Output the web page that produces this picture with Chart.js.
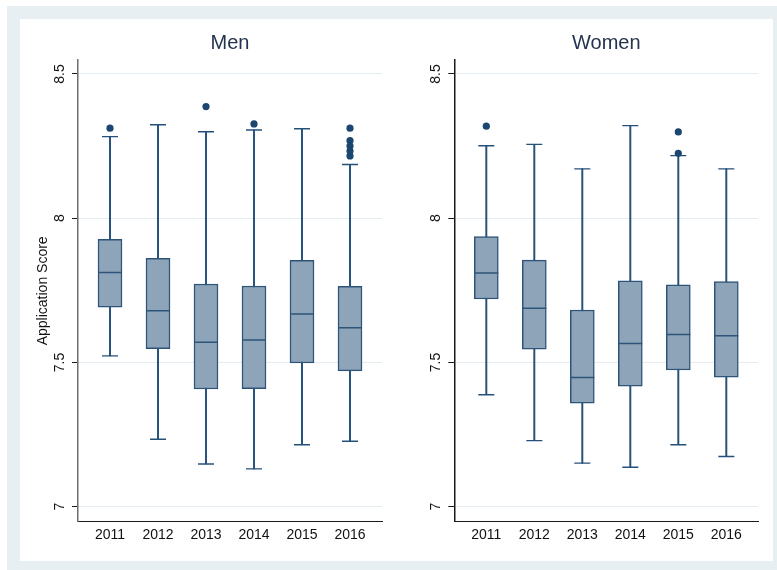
<!DOCTYPE html>
<html>
<head>
<meta charset="utf-8">
<script src="https://cdn.jsdelivr.net/npm/chart.js@4/dist/chart.umd.min.js"></script>
<style>
  html, body { margin: 0; padding: 0; background: #ffffff; }
  #frame { position: absolute; left: 7px; top: 6px; width: 770px; height: 564px; background: #e8eff2; }
  #sheet { position: absolute; left: 20px; top: 19px; width: 753px; height: 542px; background: #ffffff; }
  canvas { position: absolute; top: 19px; }
  #men { left: 20px; }
  #women { left: 390px; }
</style>
</head>
<body>
<div id="frame"></div>
<div id="sheet"></div>
<canvas id="men" width="370" height="542"></canvas>
<canvas id="women" width="383" height="542"></canvas>
<script>
// Application scores by cohort year, summarised as box plots
const years = [2011, 2012, 2013, 2014, 2015, 2016];
const yTicks = [7, 7.5, 8, 8.5];

const menLow    = [7.523, 7.234, 7.148, 7.131, 7.215, 7.227];
const menQ1     = [7.692, 7.548, 7.408, 7.409, 7.498, 7.471];
const menMedian = [7.812, 7.679, 7.570, 7.578, 7.668, 7.620];
const menQ3     = [7.927, 7.861, 7.772, 7.765, 7.854, 7.764];
const menHigh   = [8.283, 8.324, 8.300, 8.306, 8.310, 8.186];
const menOutlierYears  = [2011, 2013, 2014, 2016, 2016, 2016, 2016, 2016];
const menOutlierScores = [8.312, 8.387, 8.327, 8.312, 8.269, 8.250, 8.233, 8.216];

const womenLow    = [7.388, 7.229, 7.151, 7.137, 7.215, 7.174];
const womenQ1     = [7.720, 7.546, 7.359, 7.418, 7.474, 7.449];
const womenMedian = [7.810, 7.688, 7.448, 7.566, 7.597, 7.593];
const womenQ3     = [7.936, 7.855, 7.682, 7.783, 7.769, 7.780];
const womenHigh   = [8.251, 8.256, 8.171, 8.321, 8.217, 8.171];
const womenOutlierYears  = [2011, 2015, 2015];
const womenOutlierScores = [8.319, 8.299, 8.225];

const FONT = '"Liberation Sans", Arial, Helvetica, sans-serif';
const NAVY = '#24507a';
const BOX_EDGE = '#2f5479';
const BOX_FILL = '#8da4b9';

// Panel heading centred over the plot area
const panelTitle = {
  id: 'panelTitle',
  afterDraw(chart, args, opts) {
    const { ctx, chartArea } = chart;
    ctx.save();
    ctx.font = '20px ' + FONT;
    ctx.fillStyle = '#24344f';
    ctx.textAlign = 'center';
    ctx.textBaseline = 'middle';
    ctx.fillText(opts.text, (chartArea.left + chartArea.right) / 2, 24);
    ctx.restore();
  }
};

function buildPanel(id, title, low, q1, med, q3, high, oYears, oScores, axisWidth, padRight, showTitle, axisColor) {
  const whiskers = years.map((yr, i) => ({ x: yr, y: [low[i], high[i]] }));
  const boxes = years.map((yr, i) => ({ x: yr, y: [q1[i], q3[i]] }));
  const medians = years.map((yr, i) => ({ x: yr, y: med[i] }));
  const caps = years.flatMap((yr, i) => [{ x: yr, y: low[i] }, { x: yr, y: high[i] }]);
  const outliers = oYears.map((yr, i) => ({ x: yr, y: oScores[i] }));

  new Chart(document.getElementById(id), {
    type: 'bar',
    data: {
      datasets: [
        { type: 'bar', data: whiskers, backgroundColor: NAVY, borderWidth: 0,
          barThickness: 1.3, grouped: false, order: 4 },
        { type: 'bar', data: boxes, backgroundColor: BOX_FILL, borderColor: BOX_EDGE,
          borderWidth: 1.5, borderSkipped: false, barThickness: 24, grouped: false, order: 3 },
        { type: 'scatter', data: medians, pointStyle: 'line', pointRadius: 12,
          borderColor: BOX_EDGE, pointBorderWidth: 1.5, borderWidth: 1.5, order: 2 },
        { type: 'scatter', data: caps, pointStyle: 'line', pointRadius: 8,
          borderColor: NAVY, pointBorderWidth: 1.4, borderWidth: 1.4, order: 1 },
        { type: 'scatter', data: outliers, pointStyle: 'circle', pointRadius: 3.6,
          backgroundColor: '#1a4670', borderColor: '#1a4670', pointBorderWidth: 0, order: 0 }
      ]
    },
    options: {
      responsive: false,
      animation: false,
      devicePixelRatio: 1,
      layout: { autoPadding: false, padding: { top: 41, right: padRight, left: 0, bottom: 0 } },
      plugins: {
        legend: { display: false },
        tooltip: { enabled: false },
        panelTitle: { text: title }
      },
      scales: {
        x: {
          type: 'linear',
          min: 2010.3333,
          max: 2016.6667,
          offset: false,
          afterBuildTicks: s => { s.ticks = years.map(v => ({ value: v })); },
          afterFit: s => { s.height = 39.3; s.paddingLeft = 0; s.paddingRight = 0; },
          grid: { display: false, drawTicks: false, offset: false },
          border: { display: true, color: '#1a1a1a', width: 1 },
          ticks: { autoSkip: false, maxRotation: 0, padding: 5, color: '#111111',
            font: { family: FONT, size: 14 }, callback: v => String(v) }
        },
        y: {
          type: 'linear',
          min: 6.948,
          max: 8.5485,
          afterBuildTicks: s => { s.ticks = yTicks.map(v => ({ value: v })); },
          afterFit: s => { s.width = axisWidth; s.paddingTop = 0; s.paddingBottom = 0; },
          grid: { color: '#e4edf1', lineWidth: 1, drawTicks: true, tickLength: 6, tickColor: '#1a1a1a' },
          border: { display: true, color: axisColor, width: 1.5 },
          ticks: { minRotation: 90, maxRotation: 90, crossAlign: 'center', padding: 2,
            color: '#111111', font: { family: FONT, size: 14 }, callback: v => String(v) },
          title: { display: showTitle, text: 'Application Score', color: '#111111',
            font: { family: FONT, size: 14 }, padding: { top: 14.6, bottom: 0 } }
        }
      }
    },
    plugins: [panelTitle]
  });
}

buildPanel('men', 'Men', menLow, menQ1, menMedian, menQ3, menHigh,
  menOutlierYears, menOutlierScores, 58, 8, true, '#6e6e6e');
buildPanel('women', 'Women', womenLow, womenQ1, womenMedian, womenQ3, womenHigh,
  womenOutlierYears, womenOutlierScores, 64.3, 14.7, false, '#1a1a1a');
</script>
</body>
</html>
